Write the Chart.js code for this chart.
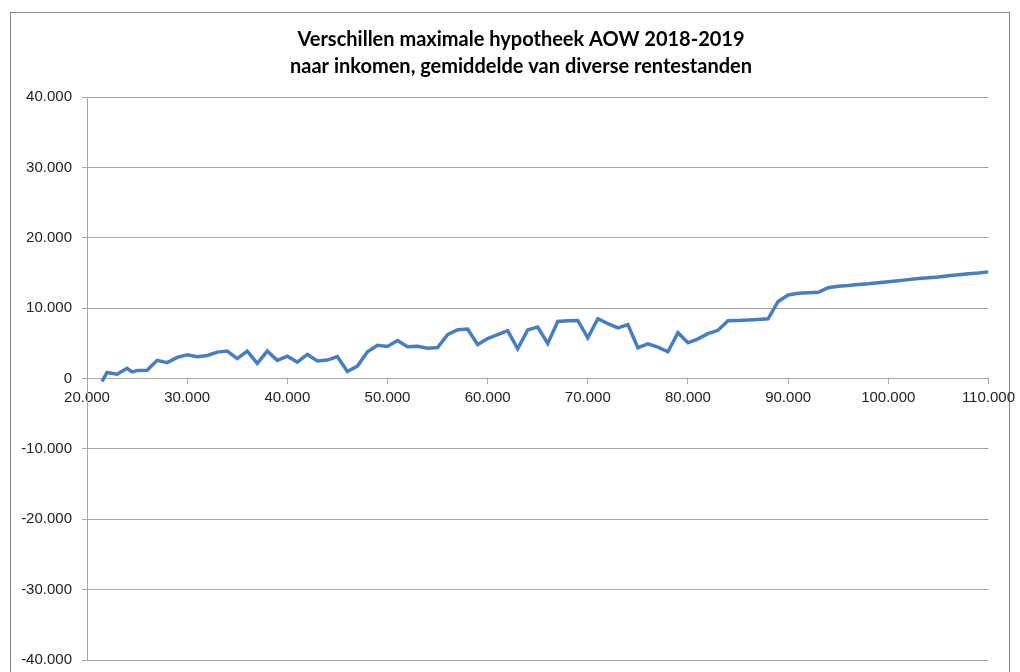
<!DOCTYPE html>
<html>
<head>
<meta charset="utf-8">
<title>Verschillen maximale hypotheek AOW 2018-2019</title>
<script src="https://cdn.jsdelivr.net/npm/chart.js@4"></script>
<style>
  html, body { margin: 0; padding: 0; background: #fff; }
  canvas { display: block; }
</style>
</head>
<body>
<canvas id="chart1" width="1020" height="672"></canvas>
<script>
// inkomen (x) en verschil maximale hypotheek (y)
const incomes = [
    21500, 22000, 23000, 24000, 24500, 25000, 26000, 27000, 28000, 29000,
    30000, 31000, 32000, 33000, 34000, 35000, 36000, 37000, 38000, 39000,
    40000, 41000, 42000, 43000, 44000, 45000, 46000, 47000, 48000, 49000,
    50000, 51000, 52000, 53000, 54000, 55000, 56000, 57000, 58000, 59000,
    60000, 61000, 62000, 63000, 64000, 65000, 66000, 67000, 68000, 69000,
    70000, 71000, 72000, 73000, 74000, 75000, 76000, 77000, 78000, 79000,
    80000, 81000, 82000, 83000, 84000, 85000, 86000, 87000, 88000, 89000,
    90000, 91000, 92000, 93000, 94000, 95000, 96000, 97000, 98000, 99000,
    100000, 101000, 102000, 103000, 104000, 105000, 106000, 107000, 108000, 109000,
    110000
];
const differences = [
    -400, 850, 600, 1450, 930, 1130, 1170, 2580, 2250, 3000,
    3380, 3100, 3280, 3750, 3890, 2820, 3890, 2150, 3890, 2580,
    3180, 2340, 3420, 2480, 2620, 3100, 990, 1770, 3800, 4730,
    4550, 5390, 4500, 4590, 4310, 4410, 6240, 6940, 7040, 4830,
    5680, 6240, 6800, 4230, 6900, 7320, 4970, 8110, 8210, 8250,
    5770, 8490, 7790, 7180, 7650, 4370, 4930, 4450, 3800, 6500,
    5070, 5630, 6380, 6850, 8210, 8250, 8310, 8390, 8490, 10950,
    11870, 12110, 12200, 12250, 12900, 13100, 13200, 13350, 13450, 13600,
    13750, 13900, 14050, 14200, 14300, 14420, 14600, 14750, 14900, 15000,
    15150
];
const titleLines = [
    'Verschillen maximale hypotheek AOW 2018-2019',
    'naar inkomen, gemiddelde van diverse rentestanden'
];

// 40000 -> "40.000"
function formatNL(value) {
    const sign = value < 0 ? '-' : '';
    return sign + String(Math.abs(value)).replace(/\B(?=(\d{3})+(?!\d))/g, '.');
}

// white background, thin grey frame and the two-line title (Excel style)
const chartFrame = {
    id: 'chartFrame',
    beforeDraw(chart) {
        const ctx = chart.ctx;
        ctx.save();
        ctx.fillStyle = '#fff';
        ctx.fillRect(0, 0, chart.width, chart.height);
        ctx.strokeStyle = '#868686';
        ctx.lineWidth = 1;
        ctx.strokeRect(10.5, 12.5, 999, 700);

        ctx.fillStyle = '#000';
        ctx.font = 'bold 20px Lato, "Open Sans", sans-serif';
        ctx.textAlign = 'center';
        ctx.textBaseline = 'middle';
        titleLines.forEach((line, i) => {
            ctx.fillText(line, 521, 40 + i * 27);
        });
        ctx.restore();
    }
};

const tickFont = { family: '"Liberation Sans", Arial, sans-serif', size: 15 };
const gridColor = '#a6a6a6';

const ctx = document.getElementById('chart1').getContext('2d');
new Chart(ctx, {
    type: 'line',
    data: {
        datasets: [{
            data: incomes.map((inc, i) => ({ x: inc, y: differences[i] })),
            borderColor: '#4a7ebb',
            borderWidth: 3.5,
            pointRadius: 0,
            tension: 0,
            fill: false
        }]
    },
    options: {
        responsive: false,
        animation: false,
        layout: {
            padding: { left: 0, right: 29, top: 97, bottom: 12 }
        },
        scales: {
            x: {
                type: 'linear',
                position: { y: 0 },
                min: 20000,
                max: 110000,
                ticks: {
                    stepSize: 10000,
                    autoSkip: false,
                    maxRotation: 0,
                    padding: 5,
                    color: '#222',
                    font: tickFont,
                    callback: (v) => formatNL(v)
                },
                grid: {
                    drawOnChartArea: false,
                    drawTicks: true,
                    tickLength: 5,
                    color: gridColor
                },
                border: { display: true, color: gridColor, width: 1 }
            },
            y: {
                min: -40000,
                max: 40000,
                afterFit: (scale) => {
                    scale.width = 87;
                    scale.paddingTop = 0;
                    scale.paddingBottom = 0;
                },
                ticks: {
                    stepSize: 10000,
                    padding: 10,
                    color: '#222',
                    font: tickFont,
                    callback: (v) => formatNL(v)
                },
                grid: {
                    color: gridColor,
                    tickLength: 5
                },
                border: { display: true, color: gridColor, width: 1 }
            }
        },
        plugins: {
            legend: { display: false },
            tooltip: { enabled: false },
            title: { display: false }
        }
    },
    plugins: [chartFrame]
});
</script>
</body>
</html>
